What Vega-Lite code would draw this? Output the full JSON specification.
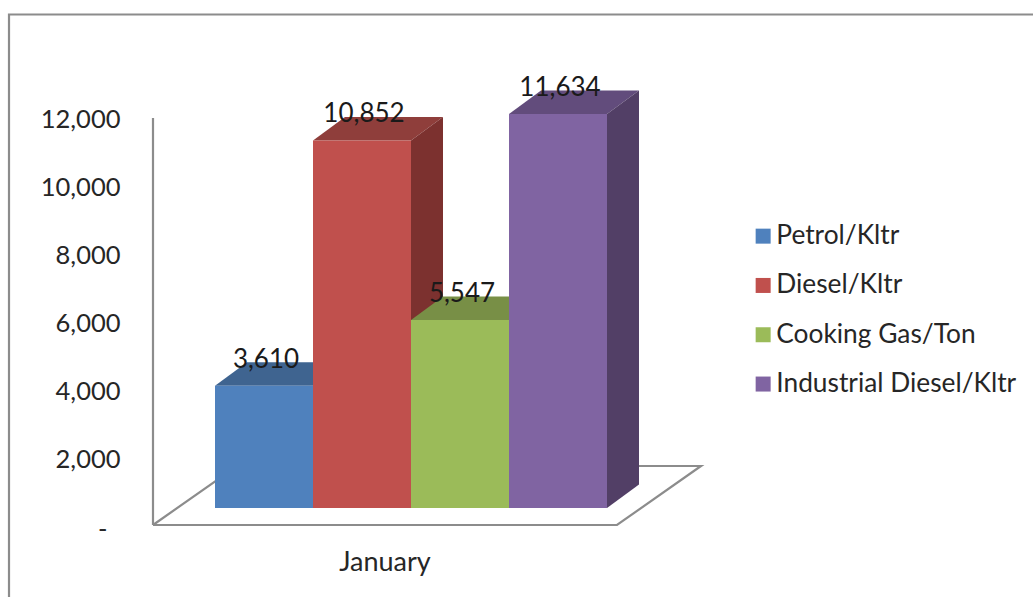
{
"$schema":"https://vega.github.io/schema/vega-lite/v6.json",
"width":1033,"height":597,
"autosize":"none",
"padding":0,
"background":"white",
"config":{"view":{"stroke":null},"font":"Lato"},
"datasets":{
"bars":[
{"month":"January","series":"Petrol/Kltr","value":3610},
{"month":"January","series":"Diesel/Kltr","value":10852},
{"month":"January","series":"Cooking Gas/Ton","value":5547},
{"month":"January","series":"Industrial Diesel/Kltr","value":11634}],
"faces":[
{"face":"Petrol top","u":0,"low":3610,"high":3610},
{"face":"Petrol top","u":0.3265,"low":3610,"high":4304},
{"face":"Petrol top","u":1,"low":3610,"high":4304},
{"face":"Petrol top","u":1.3265,"low":4304,"high":4304},
{"face":"Petrol side","u":1,"low":0,"high":3610},
{"face":"Petrol side","u":1.3265,"low":694,"high":4304},
{"face":"Diesel top","u":1,"low":10852,"high":10852},
{"face":"Diesel top","u":1.3265,"low":10852,"high":11546},
{"face":"Diesel top","u":2,"low":10852,"high":11546},
{"face":"Diesel top","u":2.3265,"low":11546,"high":11546},
{"face":"Diesel side","u":2,"low":0,"high":10852},
{"face":"Diesel side","u":2.3265,"low":694,"high":11546},
{"face":"Gas top","u":2,"low":5547,"high":5547},
{"face":"Gas top","u":2.3265,"low":5547,"high":6241},
{"face":"Gas top","u":3,"low":5547,"high":6241},
{"face":"Gas top","u":3.3265,"low":6241,"high":6241},
{"face":"Gas side","u":3,"low":0,"high":5547},
{"face":"Gas side","u":3.3265,"low":694,"high":6241},
{"face":"Industrial top","u":3,"low":11634,"high":11634},
{"face":"Industrial top","u":3.3265,"low":11634,"high":12328},
{"face":"Industrial top","u":4,"low":11634,"high":12328},
{"face":"Industrial top","u":4.3265,"low":12328,"high":12328},
{"face":"Industrial side","u":4,"low":0,"high":11634},
{"face":"Industrial side","u":4.3265,"low":694,"high":12328}],
"lines":[
{"part":"frame","seq":1,"u":-2.102,"v":-2123},
{"part":"frame","seq":2,"u":-2.102,"v":15052},
{"part":"frame","seq":3,"u":8.347,"v":15052},
{"part":"wall","seq":1,"u":-0.6327,"v":0},
{"part":"wall","seq":2,"u":-0.6327,"v":12000},
{"part":"floor","seq":1,"u":-0.6327,"v":0},
{"part":"floor","seq":2,"u":4.102,"v":0},
{"part":"floor","seq":3,"u":4.959,"v":1740},
{"part":"floor","seq":4,"u":0.2245,"v":1740},
{"part":"floor","seq":5,"u":-0.6327,"v":0}]
},
"layer":[
{"data":{"name":"lines"},
 "mark":{"type":"line","color":"#8c8c8c","strokeWidth":2.2,"clip":false},
 "encoding":{
  "x":{"field":"u","type":"quantitative","scale":{"domain":[-2.1939,8.3469],"nice":false,"zero":false},"axis":null},
  "y":{"field":"v","type":"quantitative","scale":{"domain":[-2123,15479],"nice":false,"zero":false},
   "axis":{"orient":"left","offset":-120,"values":[0,2000,4000,6000,8000,10000,12000],"domain":false,"ticks":false,"grid":false,"title":null,"labelFont":"Lato","labelFontSize":25.5,"labelColor":"#262626","labelExpr":"datum.value===0?'-':format(datum.value,',')",
   "labelPadding":{"condition":{"test":"datum.value===0","value":13},"value":0},
   "labelOffset":{"condition":{"test":"datum.value===0","value":5},"value":2}}},
  "detail":{"field":"part"},
  "order":{"field":"seq","type":"quantitative"}}},
{"data":{"name":"faces"},
 "mark":{"type":"area","clip":false},
 "encoding":{
  "x":{"field":"u","type":"quantitative","scale":{"domain":[-2.1939,8.3469],"nice":false,"zero":false},"axis":null},
  "y":{"field":"low","type":"quantitative","scale":{"domain":[-2628,14998.5],"nice":false,"zero":false},"axis":null},
  "y2":{"field":"high"},
  "color":{"field":"face","type":"nominal","legend":null,
   "scale":{"domain":["Petrol top","Petrol side","Diesel top","Diesel side","Gas top","Gas side","Industrial top","Industrial side"],
   "range":["#3F6490","#33547B","#8F3E3B","#7C312F","#788F46","#65793A","#624C7C","#523F66"]}}}},
{"data":{"name":"bars"},
 "encoding":{
  "x":{"field":"month","type":"nominal","scale":{"domain":["January"],"range":[215,607],"paddingInner":0,"paddingOuter":0},
   "axis":{"orient":"bottom","offset":-48,"labelOffset":-26,"domain":false,"ticks":false,"grid":false,"title":null,"labelAngle":0,"labelPadding":0,"labelFont":"Lato","labelFontSize":27,"labelColor":"#262626"}},
  "xOffset":{"field":"series","type":"nominal","sort":["Petrol/Kltr","Diesel/Kltr","Cooking Gas/Ton","Industrial Diesel/Kltr"],"scale":{"paddingInner":0,"paddingOuter":0}},
  "y":{"field":"value","type":"quantitative","stack":null,"scale":{"domain":[-2628,14998.5],"nice":false,"zero":false},"axis":null}
 },
 "layer":[
  {"mark":{"type":"bar","clip":false},
   "encoding":{"color":{"field":"series","type":"nominal",
     "scale":{"domain":["Petrol/Kltr","Diesel/Kltr","Cooking Gas/Ton","Industrial Diesel/Kltr"],"range":["#4F81BD","#C0504D","#9BBB59","#8064A2"]},
     "legend":{"orient":"none","legendX":750,"legendY":223,"title":null,"padding":0,"symbolType":"square","symbolSize":225,"symbolStrokeWidth":0,"labelFont":"Lato","labelFontSize":26.3,"labelColor":"#262626","labelOffset":0,"rowPadding":22.3,"labelLimit":300}}}},
  {"mark":{"type":"text","dy":-26,"dx":2,"baseline":"middle","align":"center","font":"Lato","fontSize":26,"color":"#1a1a1a"},
   "encoding":{"text":{"field":"value","type":"quantitative","format":","}}}
 ]}
],
"resolve":{"scale":{"x":"independent","y":"independent","color":"independent"},"axis":{"x":"independent","y":"independent"}}
}
